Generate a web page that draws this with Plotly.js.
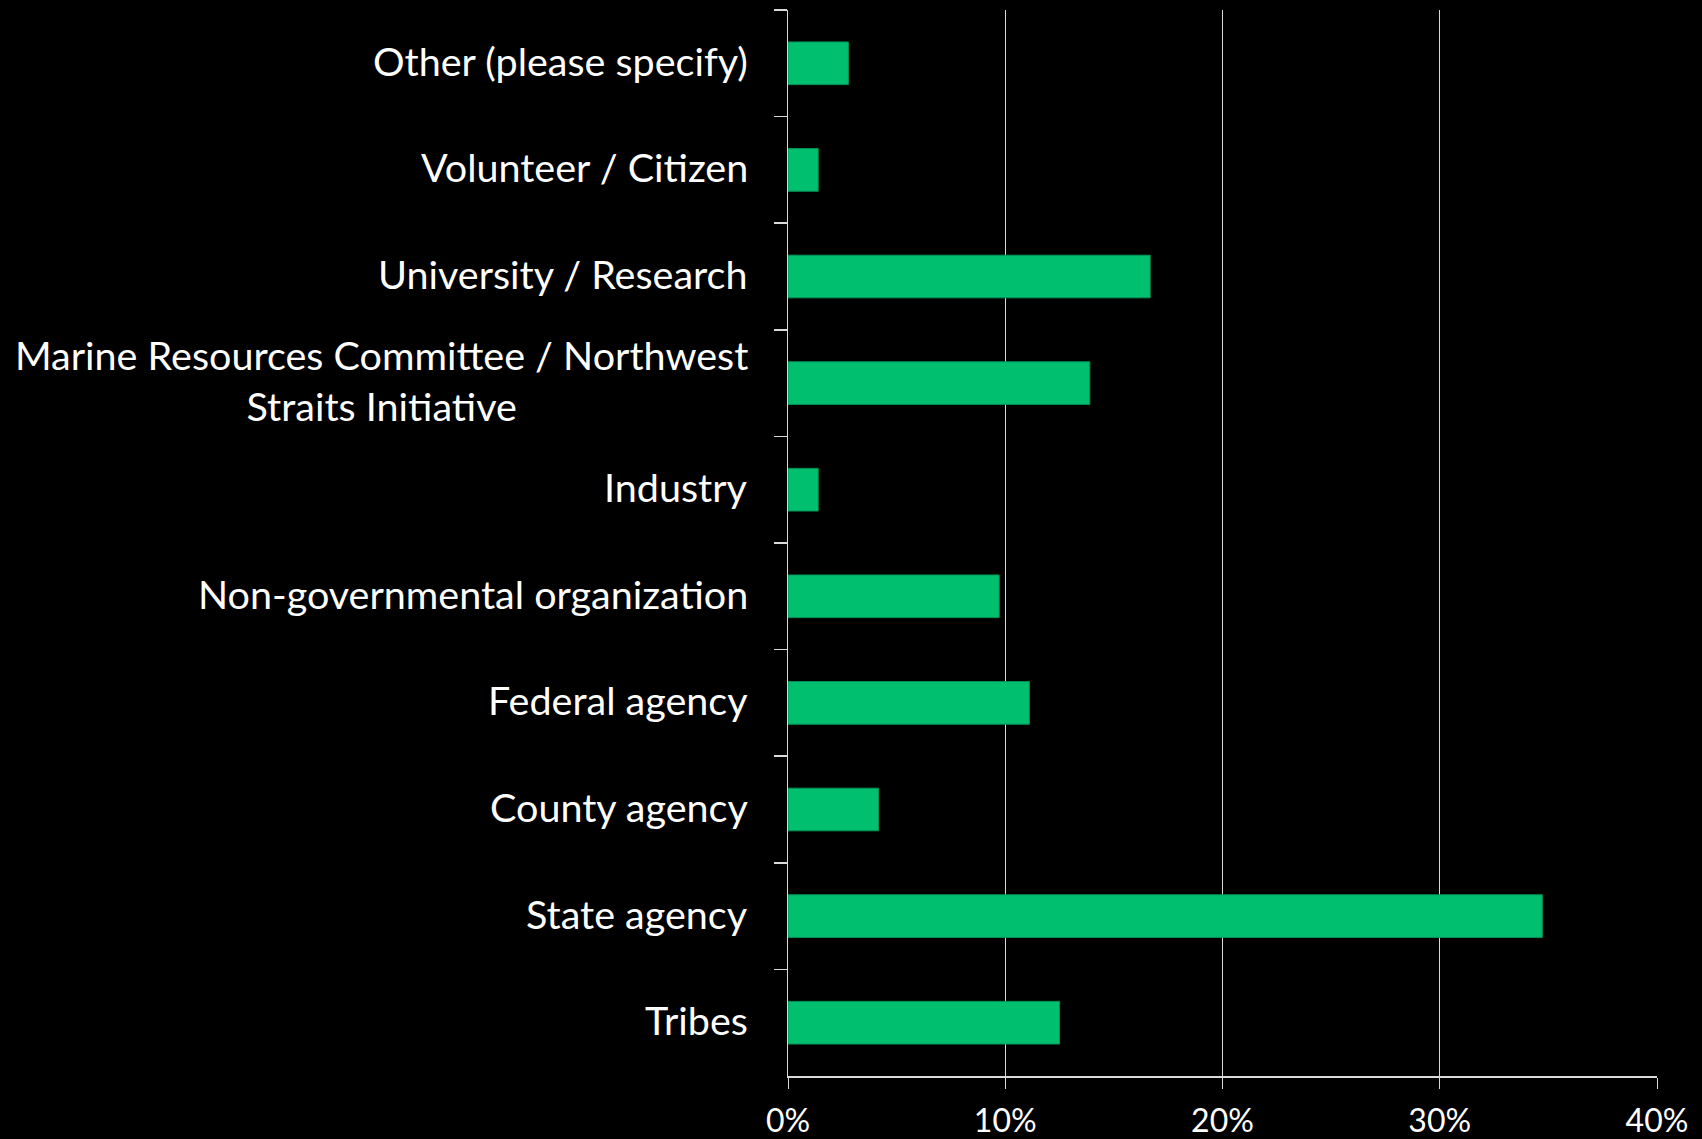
<!DOCTYPE html>
<html>
<head>
<meta charset="utf-8">
<script src="https://cdn.plot.ly/plotly-3.0.1.min.js"></script>
<style>html,body{margin:0;padding:0;background:#000;}#chart{width:1702px;height:1139px;}</style>
</head>
<body>
<div id="chart"></div>
<script>
const categories = [
  "Other (please specify)",
  "Volunteer / Citizen",
  "University / Research",
  "Marine Resources Committee / Northwest<br>Straits Initiative",
  "Industry",
  "Non-governmental organization",
  "Federal agency",
  "County agency",
  "State agency",
  "Tribes"
];
const values = [2.78, 1.39, 16.67, 13.89, 1.39, 9.72, 11.11, 4.17, 34.72, 12.5];
const xTickVals = [0, 10, 20, 30, 40];
const xTickText = ["0%", "10%", "20%", "30%", "40%"];

const FONT = "Lato, 'Open Sans', sans-serif";

const trace = {
  type: "bar",
  orientation: "h",
  x: values,
  y: categories,
  marker: {color: "#00BF6F", line: {color: "#00955A", width: 1}},
  hoverinfo: "x+y"
};

const annotations = categories.map(c => ({
  xref: "paper", yref: "y", x: 0, y: c,
  xanchor: "right", yanchor: "middle", xshift: -38, yshift: 3,
  text: c, showarrow: false, align: "center",
  font: {family: FONT, size: 39.5, color: "#FFFFFF"}
}));

const layout = {
  width: 1702, height: 1139,
  paper_bgcolor: "#000000", plot_bgcolor: "#000000",
  margin: {l: 788, r: 45, t: 10, b: 63},
  bargap: 0.6,
  showlegend: false,
  xaxis: {
    range: [0, 40], tickvals: xTickVals, ticktext: xTickText,
    showgrid: true, gridcolor: "#D9D9D9", gridwidth: 1,
    zeroline: false, showline: true, linecolor: "#D9D9D9", linewidth: 1.5,
    ticks: "outside", ticklen: 11, tickcolor: "#D9D9D9", tickwidth: 1,
    ticklabelstandoff: 5,
    tickfont: {family: FONT, size: 32, color: "#FFFFFF"},
    fixedrange: true
  },
  yaxis: {
    type: "category", autorange: "reversed",
    showticklabels: false, tickson: "boundaries",
    ticks: "outside", ticklen: 13, tickcolor: "#D9D9D9", tickwidth: 1.5,
    showgrid: false, zeroline: false,
    showline: true, linecolor: "#D9D9D9", linewidth: 1.5,
    fixedrange: true
  },
  annotations: annotations
};

Plotly.newPlot("chart", [trace], layout, {displayModeBar: false, staticPlot: true});
</script>
</body>
</html>
